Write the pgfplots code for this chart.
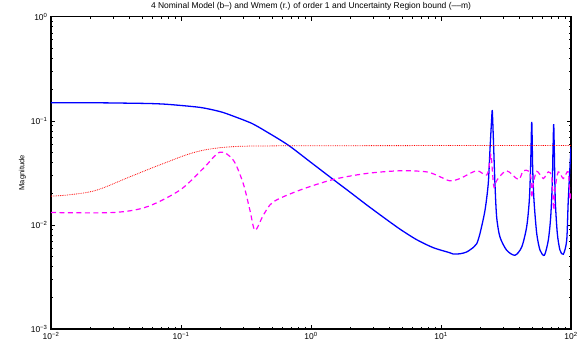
\documentclass[border=0pt]{standalone}
\usepackage{fontspec}
\setmainfont{Liberation Sans}
\usepackage{pgfplots}
\pgfplotsset{compat=1.18}
\definecolor{mblue}{RGB}{0,0,255}
\definecolor{mred}{RGB}{255,0,0}
\definecolor{mmag}{RGB}{255,0,255}
\begin{document}
\begin{tikzpicture}
\begin{loglogaxis}[
  scale only axis,
  width=520bp, height=312.3bp,
  xmin=0.01, xmax=100, ymin=0.001, ymax=1,
  xtick={0.01,0.1,1,10,100},
  xticklabels={10\textsuperscript{−2},10\textsuperscript{−1},10\textsuperscript{0},10\textsuperscript{1},10\textsuperscript{2}},
  ytick={0.001,0.01,0.1,1},
  yticklabels={10\textsuperscript{−3},10\textsuperscript{−2},10\textsuperscript{−1},10\textsuperscript{0}},
  tick label style={font=\fontsize{8.5}{10}\selectfont},
  major tick length=4bp, minor tick length=2.5bp,
  tick style={black, line width=0.6pt},
  axis line style={line width=1.1pt},
  title={4 Nominal Model (b--) and Wmem (r.) of order 1 and Uncertainty Region bound (--{}--m)},
  title style={font=\fontsize{8.5}{10}\selectfont, yshift=-3bp},
  ylabel={Magnitude},
  ylabel style={font=\fontsize{7.5}{9}\selectfont, yshift=-2bp},
  clip=true,
]
% Nominal model (blue solid)
\addplot[mblue, line width=1.3pt, smooth, tension=0.45] coordinates {
(0.01,0.149) (0.0238,0.1488) (0.035,0.1480) (0.0578,0.1465) (0.08,0.1437) (0.140,0.1345) (0.2,0.1225) (0.252,0.1110)
(0.35,0.0945) (0.456,0.0784) (0.668,0.0584) (1.0,0.0398) (1.484,0.0273) (2.0,0.0206) (2.68,0.01557)
(3.6,0.01186) (4.84,0.0091) (6.5,0.00721) (8.73,0.00604) (11.7,0.0054) (12.4,0.00525) (14.0,0.00528) (15.78,0.00550) (17.8,0.00610) (18.84,0.00660)
(19.95,0.00826) (21.8,0.0138) (23.1,0.0250) (23.8,0.0523) (24.5,0.1016)
(24.8,0.1248) (25.2,0.0757) (26.0,0.0250) (26.8,0.0119) (28.4,0.00767)
(32.0,0.00571) (37.1,0.00511) (41.8,0.00614) (45.6,0.00957) (47.8,0.01728)
(48.9,0.0361) (49.9,0.0978) (50.7,0.0361) (51.9,0.01728) (54.5,0.00826)
(57.8,0.00571) (62.4,0.00511) (66.9,0.00713) (69.8,0.0119) (71.8,0.025)
(72.7,0.0523) (73.6,0.0929) (74.4,0.0523) (75.7,0.01728) (78.5,0.00826)
(82.3,0.00571) (87.3,0.00523) (92.7,0.00713) (95.3,0.01728) (100,0.056)
};
% Wmem (red dotted)
\addplot[mred, line width=0.8pt, densely dotted, smooth, tension=0.6] coordinates {
(0.01,0.0189) (0.0140,0.0195) (0.0225,0.0216) (0.0405,0.0290) (0.0732,0.0389)
(0.132,0.0504) (0.238,0.0562) (0.578,0.0575) (2,0.0577) (10,0.0578) (100,0.0578)
};
% Uncertainty region bound (magenta dashed)
\addplot[mmag, line width=1.2pt, dash pattern=on 5bp off 3.5bp, smooth, tension=0.5] coordinates {
(0.01,0.01315) (0.0301,0.01315) (0.0545,0.0149) (0.0982,0.0216) (0.1484,0.0349)
(0.1995,0.050) (0.2524,0.0419) (0.301,0.025) (0.339,0.01384) (0.371,0.00889)
(0.430,0.0124) (0.513,0.01664) (0.823,0.0216) (1.484,0.0273) (2.68,0.0312)
(4.84,0.0331) (7.76,0.0323) (9.82,0.0290) (11.73,0.0265) (14.0,0.0279)
(18.8,0.0331) (22.5,0.0301) (23.8,0.0419) (24.3,0.0468) (25.0,0.0300)
(25.6,0.0230) (27.0,0.0270) (32.0,0.0331) (39.4,0.0273) (42.9,0.0331)
(47.6,0.0327) (49.4,0.0270) (49.9,0.0181) (51.1,0.0241) (54.5,0.0327)
(61.2,0.0279) (66.9,0.0323) (71.3,0.0284) (73.6,0.01384) (75.3,0.0216)
(79.8,0.0323) (87.3,0.0279) (95.3,0.0323) (98.3,0.0173) (100,0.0216)
};
\end{loglogaxis}
\pgfresetboundingbox
\path ([shift={(-51bp,-18bp)}]current axis.south west) rectangle ([shift={(16bp,16.7bp)}]current axis.north east);
\end{tikzpicture}
\end{document}
